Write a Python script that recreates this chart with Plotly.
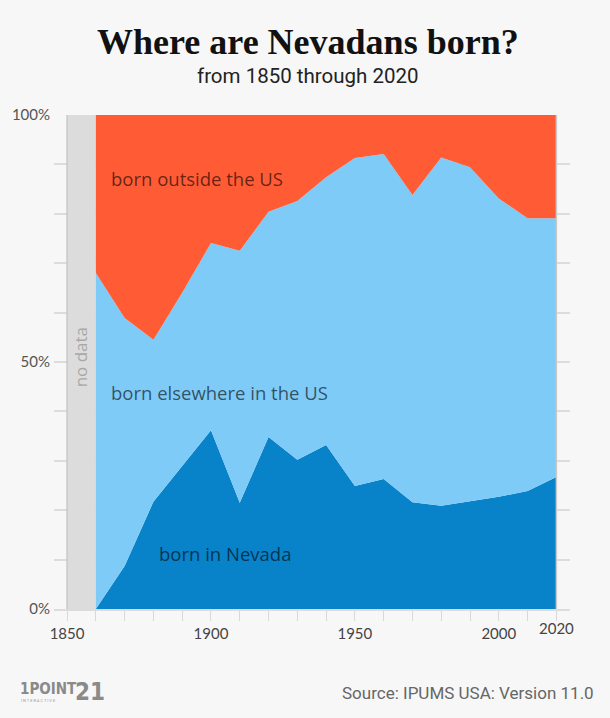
import plotly.graph_objects as go

# ---- data ----
years = [1860, 1870, 1880, 1890, 1900, 1910, 1920, 1930, 1940, 1950,
         1960, 1970, 1980, 1990, 2000, 2010, 2020]
born_nevada = [0.0, 8.7, 21.7, 29.0, 36.2, 21.5, 34.8, 30.2, 33.2, 24.9,
               26.3, 21.6, 20.9, 21.8, 22.7, 23.9, 26.7]
born_elsewhere_us = [68.0, 50.2, 32.8, 35.0, 37.9, 51.0, 45.6, 52.4, 54.2, 66.4,
                     65.8, 62.2, 70.5, 67.6, 60.4, 55.2, 52.4]
born_outside_us = [32.0, 41.1, 45.5, 36.0, 25.9, 27.5, 19.6, 17.4, 12.6, 8.7,
                   7.9, 16.2, 8.6, 10.6, 16.9, 20.9, 20.9]
no_data_span = [1850, 1860]
x_tick_years = list(range(1850, 2021, 10))
x_tick_labels = {1850: "1850", 1900: "1900", 1950: "1950", 2000: "2000"}
y_tick_vals = list(range(0, 101, 10))
y_tick_labels = {0: "0%", 50: "50%", 100: "100%"}

C_NV = "#0882C8"
C_US = "#7ECBF8"
C_FOR = "#FF5C35"
C_GRAY = "#DCDCDC"
BG = "#F7F7F7"

fig = go.Figure()

# no-data band
fig.add_trace(go.Scatter(
    x=[no_data_span[0], no_data_span[1], no_data_span[1], no_data_span[0]],
    y=[0, 0, 100, 100], fill="toself", fillcolor=C_GRAY,
    mode="lines", line=dict(width=0), hoverinfo="skip", showlegend=False))

for vals, col, name in [(born_nevada, C_NV, "born in Nevada"),
                        (born_elsewhere_us, C_US, "born elsewhere in the US"),
                        (born_outside_us, C_FOR, "born outside the US")]:
    fig.add_trace(go.Scatter(
        x=years, y=vals, name=name, stackgroup="one", mode="lines",
        line=dict(width=0, color=col), fillcolor=col, showlegend=False))

fig.update_layout(
    width=610, height=718,
    paper_bgcolor=BG, plot_bgcolor=BG,
    margin=dict(l=49, r=40, t=115, b=109),
    xaxis=dict(range=[1845.46, 2024.74], tickmode="array",
               tickvals=x_tick_years,
               ticktext=[x_tick_labels.get(v, "") for v in x_tick_years],
               showgrid=False, zeroline=False, ticks="outside", ticklen=10,
               tickcolor="#D8D8D8", tickwidth=1, showline=True,
               linecolor="#DCDCDC", linewidth=1.5,
               tickfont=dict(family="Lato", size=15, color="#444444")),
    yaxis=dict(range=[0, 100], tickmode="array", tickvals=y_tick_vals,
               ticktext=[y_tick_labels.get(v, "") for v in y_tick_vals],
               showgrid=True, gridcolor="#DCDCDC", gridwidth=1.5,
               zeroline=False, ticks="", showline=False, ticklabelstandoff=3,
               tickfont=dict(family="Lato", size=15, color="#555555")),
)

# vertical frame lines
for xv in (1850, 2020):
    fig.add_shape(type="line", x0=xv, x1=xv, y0=0, y1=100, xref="x", yref="y",
                  line=dict(color="#C8C8C8", width=1.5), layer="above")

ann_font = dict(family="Open Sans", size=18.5, color="rgba(0,0,0,0.62)")
fig.add_annotation(x=1864.6, y=87.2, text="born outside the US", showarrow=False,
                   xanchor="left", yanchor="middle", font=ann_font)
fig.add_annotation(x=1864.6, y=43.9, text="born elsewhere in the US", showarrow=False,
                   xanchor="left", yanchor="middle", font=ann_font)
fig.add_annotation(x=1881.4, y=11.3, text="born in Nevada", showarrow=False,
                   xanchor="left", yanchor="middle", font=ann_font)
fig.add_annotation(x=1854.6, y=51.0, text="no data", showarrow=False, textangle=-90,
                   font=dict(family="Open Sans", size=17, color="#A8A8A8"))

# 2020 tick label (slightly raised)
fig.add_annotation(x=2020, xref="x", y=(609 - 628) / 494, yref="paper", text="2020",
                   showarrow=False, yanchor="middle",
                   font=dict(family="Lato", size=15, color="#444444"))

# titles
fig.add_annotation(xref="paper", yref="paper", x=(305 - 49) / 521, y=(609 - 42) / 494,
                   text="<b>Where are Nevadans born?</b>", showarrow=False,
                   yanchor="middle",
                   font=dict(family="Liberation Serif", size=36, color="#111111"))
fig.add_annotation(xref="paper", yref="paper", x=(305 - 49) / 521, y=(609 - 76) / 494,
                   text="from 1850 through 2020", showarrow=False, yanchor="middle",
                   font=dict(family="Roboto", size=20.5, color="#222222"))
fig.add_annotation(xref="paper", yref="paper", x=(596 - 49) / 521, y=(609 - 693) / 494,
                   text="Source: IPUMS USA: Version 11.0", showarrow=False,
                   xanchor="right", yanchor="middle",
                   font=dict(family="Roboto", size=17, color="#666666"))
# logo
fig.add_annotation(xref="paper", yref="paper", x=(13 - 49) / 521, y=(609 - 689) / 494,
                   text="<b>1POINT</b>", showarrow=False, xanchor="left", yanchor="middle",
                   font=dict(family="DejaVu Sans Condensed, Roboto", size=15, color="#8A8A8A"))
fig.add_annotation(xref="paper", yref="paper", x=(68 - 49) / 521, y=(609 - 692) / 494,
                   text="<b>21</b>", showarrow=False, xanchor="left", yanchor="middle",
                   font=dict(family="DejaVu Sans Condensed, Roboto", size=24, color="#8A8A8A"))
fig.add_annotation(xref="paper", yref="paper", x=(14 - 49) / 521, y=(609 - 700.5) / 494,
                   text="I N T E R A C T I V E", showarrow=False,
                   xanchor="left", yanchor="middle",
                   font=dict(family="Roboto", size=4, color="#999999"))

fig.write_html(
    "out.html",
    config={"displayModeBar": False},
    post_script="document.body.style.margin='0';document.body.style.background='#F7F7F7';",
)
